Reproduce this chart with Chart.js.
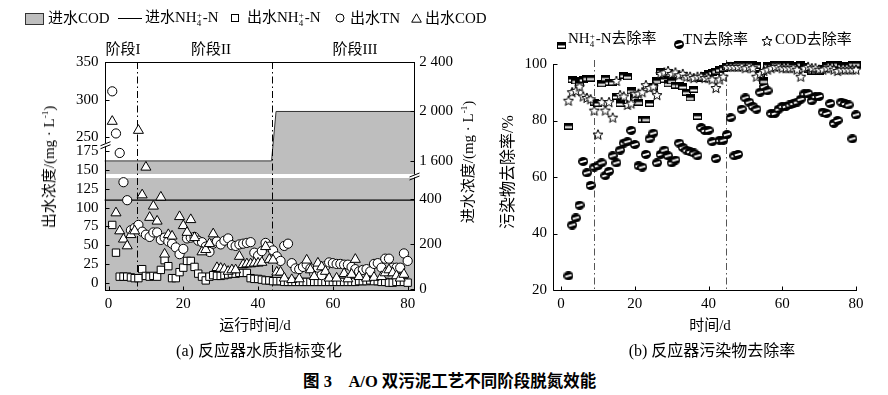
<!DOCTYPE html>
<html>
<head>
<meta charset="utf-8">
<script src="https://cdn.jsdelivr.net/npm/chart.js@4.4.1/dist/chart.umd.min.js"></script>
<style>
  body { margin: 0; width: 888px; height: 395px; background: #fff; position: relative; overflow: hidden;
         font-family: "Liberation Serif", "Noto Sans CJK SC", serif; color: #000; }
  .t { position: absolute; white-space: nowrap; font-size: 15px; line-height: 1; }
  .c { transform: translate(-50%, -50%); }
  .l { transform: translateY(-50%); }
  .r90 { transform: translate(-50%, -50%) rotate(-90deg); }
  .ss { display: inline-block; font-size: 9px; line-height: 8px; vertical-align: -4px; margin: 0 1px 0 0; }
  .sup { font-size: 9px; vertical-align: 6px; }
  .box { position: absolute; }
  #wrapA { position: absolute; left: 0; top: 0; width: 470px; height: 320px; }
  #wrapB { position: absolute; left: 470px; top: 0; width: 418px; height: 320px; }
  .cap { font-size: 16px; }
  .fig { font-size: 16.5px; font-weight: bold; }
</style>
</head>
<body>
<div id="wrapA"><canvas id="chartA"></canvas></div>
<div id="wrapB"><canvas id="chartB"></canvas></div>

<!-- legend (a) -->
<div class="box" style="left:25px;top:13px;width:17px;height:10px;background:#bebebe;border:1px solid #333;"></div>
<div class="t l" style="left:48px;top:18px;">进水COD</div>
<div class="box" style="left:118px;top:18px;width:24px;height:1px;background:#000;"></div>
<div class="t l" style="left:145px;top:18px;">进水NH<span class="ss">+<br>4</span>-N</div>
<svg class="box" style="left:231px;top:14px;" width="9" height="9"><rect x="0.5" y="0.5" width="7" height="7" fill="#fff" stroke="#000"/></svg>
<div class="t l" style="left:247px;top:18px;">出水NH<span class="ss">+<br>4</span>-N</div>
<svg class="box" style="left:335px;top:13px;" width="10" height="10"><circle cx="5" cy="5" r="4" fill="#fff" stroke="#000"/></svg>
<div class="t l" style="left:350px;top:18px;">出水TN</div>
<svg class="box" style="left:411px;top:13px;" width="11" height="10"><path d="M5.5 0.8 L10.3 9.2 L0.7 9.2 Z" fill="#fff" stroke="#000"/></svg>
<div class="t l" style="left:425px;top:18px;">出水COD</div>

<!-- stage labels (a) -->
<div class="t c" style="left:123px;top:49px;">阶段I</div>
<div class="t c" style="left:211px;top:49px;">阶段II</div>
<div class="t c" style="left:355px;top:49px;">阶段III</div>

<!-- axis titles (a) -->
<div class="t r90" style="left:49px;top:167px;">出水浓度/(mg · L<span class="sup">-1</span>)</div>
<div class="t r90" style="left:468px;top:162px;">进水浓度/(mg · L<span class="sup">-1</span>)</div>
<div class="t c" style="left:255px;top:325px;">运行时间/d</div>
<div class="t c cap" style="left:259px;top:351px;">(a) 反应器水质指标变化</div>

<!-- legend (b) -->
<span id="legB1" class="box" style="left:557px;top:35px;"></span>
<div class="t l" style="left:568px;top:39px;">NH<span class="ss">+<br>4</span>-N去除率</div>
<span id="legB2" class="box" style="left:674px;top:35px;"></span>
<div class="t l" style="left:683px;top:39px;">TN去除率</div>
<span id="legB3" class="box" style="left:761px;top:33px;"></span>
<div class="t l" style="left:775px;top:39px;">COD去除率</div>

<!-- axis titles (b) -->
<div class="t r90" style="left:508px;top:172px;font-size:16px;">污染物去除率/%</div>
<div class="t c" style="left:710px;top:325px;">时间/d</div>
<div class="t c cap" style="left:712px;top:351px;">(b) 反应器污染物去除率</div>

<div class="t l fig" style="left:303px;top:382px;">图 3&nbsp;&nbsp;&nbsp; A/O 双污泥工艺不同阶段脱氮效能</div>

<script>
// ===== (a) 反应器水质指标变化 =====
const stageSplitA = [7.6, 43.6];
const codInDays = [-1.1, 43.6, 44.8, 81.8];
const codIn = [1600, 1600, 2000, 2000];
const nh4InDays = [-1.1, 81.8];
const nh4In = [110, 110];

const outDays = [1, 2, 3, 4, 5, 6, 7, 8, 9, 10, 11, 12, 13, 14, 15, 16, 17, 18, 19, 20,
  21, 22, 23, 24, 25, 26, 27, 28, 29, 30, 31, 32, 33, 34, 35, 36, 37, 38, 39, 40,
  41, 42, 43, 44, 45, 46, 47, 48, 49, 50, 51, 52, 53, 54, 55, 56, 57, 58, 59, 60,
  61, 62, 63, 64, 65, 66, 67, 68, 69, 70, 71, 72, 73, 74, 75, 76, 77, 78, 79, 80];
const nh4Out = [77, 40, 8, 8, 8, 7, 6, 6, 18, 9, 8, 9, 8, 17, 30, 22, 6, 6, 14, 20,
  29, 29, 21, 12, 8, 3, 8, 10, 9, 9, 10, 11, 12, 12, 13, 13, 13, 6, 5, 5,
  4, 3, 3, 2, 2, 2, 1, 1, 1, 1, 1, 1, 1, 1, 1, 1, 1, 1, 1, 1,
  1, 1, 1, 1, 1, 1, 2, 2, 2, 3, 2, 2, 1, 1, 0, 0, 1, 1, 1, 0];
const tnOut = [311, 255, 173, 134, 110, 70, 73, 77, 68, 64, 61, 67, 67, 57, 60, 55, 52, 47, 38, 45,
  59, 60, 61, 56, 54, 48, 41, 52, 55, 51, 56, 59, 50, 49, 51, 52, 53, 54, 40, 36,
  42, 53, 48, 43, 35, 29, 49, 52, 26, 19, 18, 21, 24, 19, 12, 20, 10, 22, 27, 26,
  25, 25, 24, 24, 21, 18, 15, 17, 18, 15, 25, 26, 20, 32, 32, 20, 20, 20, 39, 29];
const codOutDays = [1, 2, 3, 4, 5, 6, 7, 8, 9, 10, 11, 12, 13, 14, 15, 16, 17,
  19, 20, 21, 22, 23,
  25, 26, 27, 28, 29, 30, 31, 32, 33, 34, 35, 36, 37, 38, 39, 40, 41, 42, 43, 44, 45, 46, 47,
  49, 51, 53, 54, 55, 56, 57, 58, 59, 61, 63, 64, 65, 66, 67, 69, 71,
  73, 74, 75, 76, 77, 78, 79];
const codOut = [271, 93, 69, 58, 49, 64, 69, 259, 117, 154, 87, 102, 82, 114, 38, 64, 62,
  88, 76, 67, 84, 60,
  41, 44, 52, 65, 20, 19, 18, 15, 17, 17, 35, 24, 25, 25, 26, 26, 27, 48, 31, 30, 14, 14, 6,
  4, 5, 30, 17, 8, 26, 21, 15, 6, 6, 12, 5, 11, 31, 8, 6, 7,
  8, 13, 17, 13, 9, 6, 11];
const leftTicks = [0, 25, 50, 75, 100, 125, 150, 175, 250, 300, 350];
const rightTicks = [0, 200, 400, 1600, 2000, 2400];
const xTicksA = [0, 20, 40, 60, 80];

// ===== (b) 反应器污染物去除率 =====
const stageSplitB = [9, 44.7];
const rateDays = [2, 3, 4, 5, 6, 7, 8, 9, 10, 11, 12, 13, 14, 15, 16, 17, 18, 19, 20, 21,
  22, 23, 24, 25, 26, 27, 28, 29, 30, 31, 32, 33, 34, 35, 36, 37, 38, 39, 40, 41,
  42, 43, 44, 45, 46, 47, 48, 49, 50, 51, 52, 53, 54, 55, 56, 57, 58, 59, 60, 61,
  62, 63, 64, 65, 66, 67, 68, 69, 70, 71, 72, 73, 74, 75, 76, 77, 78, 79, 80];
const nh4Rate = [78, 94.5, 94, 93, 94.5, 95, 95, 86.5, 86, 93, 95, 93.5, 93.5, 88.5, 86, 96, 95.5, 90.5, 88, 86.5,
  80.5, 80.5, 86, 92, 94, 97.5, 94.5, 93, 94, 92.5, 92.5, 92, 90, 88, 91, 81.5, 95, 96, 96.5, 97,
  97.5, 98, 98.5, 99, 99.5, 99.5, 100, 100, 100, 100, 100, 99.5, 96.5, 94, 99.5, 99.5, 100, 100, 100, 100,
  100, 99.5, 99.5, 100, 99, 98, 97.5, 97.5, 97.5, 98.5, 99.5, 100, 100, 100, 99.5, 99.5, 99.5, 100, 100];
const tnRate = [25, 43, 45.5, 50, 65.5, 61.5, 57, 63.5, 64, 65, 60.5, 62, 67.5, 65, 69.5, 72, 72.5, 76.5, 71.5, 64,
  63.5, 68, 73.5, 75.5, 65, 68, 69.5, 67.5, 65, 66, 72, 70.5, 69.5, 69, 68.5, 67.5, 77.5, 76.5, 76.5, 72.5,
  66.5, 73, 73, 75, 81, 67.5, 68, 84, 88, 86.5, 85, 84, 90, 92, 90.5, 82.5, 82.5, 84, 85, 85,
  85.5, 86, 86.5, 87.5, 89.5, 89.5, 87, 88.5, 88.5, 83, 82.5, 86, 79, 80, 86.5, 86, 85.5, 73.5, 82];
const codRate = [87, 90, 90.5, 92, 88.5, 88, 87.5, 83.5, 75, 86.5, 83.5, 86.5, 81, 94, 89, 88.5, 85.5, 86, 89.5, 89.5,
  90, 92.5, 91.5, 92, 89, 96.5, 97, 97.5, 96.5, 97, 96, 96.5, 95.5, 95.5, 95, 95.5, 95.5, 95, 95, 94.5,
  91.5, 94.5, 95.5, 99, 99, 99, 99, 99, 98.5, 99, 98.5, 95.5, 96.5, 97.5, 98, 98.5, 99, 99, 98.5, 98.5,
  98.5, 98.5, 98, 95.5, 98.5, 99, 98.5, 98.5, 98, 98, 98.5, 98.5, 98, 97.5, 98, 98, 98, 98, 98];
const xTicksB = [0, 20, 40, 60, 80];

// axis break layout (value ranges and their share of the height)
const leftPieces = [{from: -9.8, to: 184, share: 144}, {from: 240, to: 350, share: 82}];
const rightPieces = [{from: -5, to: 503, share: 113}, {from: 1478, to: 2400, share: 113}];

function pts(xs, ys) {
  return xs.map((x, i) => ({x: x, y: ys[i]}));
}

function fmtSpace(v) {
  return v >= 1000 ? String(v).replace(/\B(?=(\d{3})+$)/, ' ') : String(v);
}

// linear scale with a cut-out section
class BrokenScale extends Chart.LinearScale {
  buildTicks() {
    return this.options.tickValues.map(v => ({value: v}));
  }
  _pieces() {
    return this.options.pieces.map(p => ({from: p.from, to: p.to, share: p.share}));
  }
  _decimal(v) {
    const pieces = this._pieces();
    const total = pieces.reduce((s, p) => s + p.share, 0);
    let acc = 0;
    for (let i = 0; i < pieces.length; i++) {
      const p = pieces[i];
      if (v <= p.to || i === pieces.length - 1) {
        const vv = (i > 0 && v < p.from) ? p.from : v;
        return (acc + (vv - p.from) / (p.to - p.from) * p.share) / total;
      }
      acc += p.share;
    }
  }
  getPixelForValue(value) {
    if (value === null || value === undefined) return NaN;
    return this.getPixelForDecimal(this._decimal(value));
  }
  getValueForPixel(pixel) {
    const dec = this.getDecimalForPixel(pixel);
    const pieces = this._pieces();
    const total = pieces.reduce((s, p) => s + p.share, 0);
    let acc = 0;
    for (const p of pieces) {
      const f = p.share / total;
      if (dec <= acc + f) return p.from + (dec - acc) / f * (p.to - p.from);
      acc += f;
    }
    return this.max;
  }
  breakPixel() {
    const pieces = this._pieces();
    const total = pieces.reduce((s, p) => s + p.share, 0);
    return this.getPixelForDecimal(pieces[0].share / total);
  }
}
BrokenScale.id = 'broken';
BrokenScale.defaults = Chart.LinearScale.defaults;
Chart.register(BrokenScale);

Chart.defaults.font.family = '"Liberation Serif", "Noto Sans CJK SC", serif';
Chart.defaults.font.size = 15;
Chart.defaults.color = '#000';
Chart.defaults.animation = false;

const noGrid = {display: false, drawTicks: false};

// ---- chart (a) ----
const decorA = {
  id: 'decorA',
  afterDatasetDraw(chart, args) {
    if (args.index !== 4) return;   // right after the gray COD area
    const {ctx, chartArea: a, scales} = chart;
    ctx.save();
    const yb = scales.yR.breakPixel();
    ctx.fillStyle = '#fff';
    ctx.fillRect(a.left, yb - 2, a.right - a.left, 4);
    ctx.strokeStyle = '#000';
    ctx.lineWidth = 1;
    ctx.setLineDash([7, 3, 1.5, 3]);
    stageSplitA.forEach(d => {
      const x = Math.round(scales.x.getPixelForValue(d)) + 0.5;
      ctx.beginPath(); ctx.moveTo(x, a.top); ctx.lineTo(x, a.bottom); ctx.stroke();
    });
    ctx.restore();
  },
  afterDatasetsDraw(chart) {
    const {ctx, chartArea: a, scales} = chart;
    const L = Math.round(a.left) + 0.5, R = Math.round(a.right) + 0.5;
    const T = Math.round(a.top) + 0.5, B = Math.round(a.bottom) + 0.5;
    ctx.save();
    ctx.strokeStyle = '#000';
    ctx.lineWidth = 1;
    ctx.strokeRect(L, T, R - L, B - T);
    ctx.beginPath();
    scales.x.ticks.forEach(t => {
      const x = Math.round(scales.x.getPixelForValue(t.value)) + 0.5;
      ctx.moveTo(x, B); ctx.lineTo(x, B - 4);
    });
    scales.yL.ticks.forEach(t => {
      const y = Math.round(scales.yL.getPixelForValue(t.value)) + 0.5;
      ctx.moveTo(L, y); ctx.lineTo(L + 4, y);
    });
    scales.yR.ticks.forEach(t => {
      const y = Math.round(scales.yR.getPixelForValue(t.value)) + 0.5;
      ctx.moveTo(R, y); ctx.lineTo(R - 4, y);
    });
    ctx.stroke();
    // break marks
    const ybl = scales.yL.breakPixel(), ybr = scales.yR.breakPixel();
    ctx.fillStyle = '#fff';
    ctx.fillRect(L - 1, ybl - 1.5, 2, 3);
    ctx.fillRect(R - 1, ybr - 1.5, 2, 3);
    ctx.beginPath();
    [[L, ybl], [R, ybr]].forEach(([x, y]) => {
      ctx.moveTo(x - 5, y + 1); ctx.lineTo(x + 5, y - 3);
      ctx.moveTo(x - 5, y + 4); ctx.lineTo(x + 5, y);
    });
    ctx.stroke();
    ctx.restore();
  }
};

new Chart(document.getElementById('chartA'), {
  type: 'scatter',
  data: {
    datasets: [
      {label: '出水COD', data: pts(codOutDays, codOut), yAxisID: 'yL', pointStyle: 'triangle', pointRadius: 5.8,
       backgroundColor: '#fff', borderColor: '#000', borderWidth: 1, order: 1},
      {label: '出水TN', data: pts(outDays, tnOut), yAxisID: 'yL', pointStyle: 'circle', pointRadius: 4.6,
       backgroundColor: '#fff', borderColor: '#000', borderWidth: 1, order: 2},
      {label: '出水NH4+-N', data: pts(outDays, nh4Out), yAxisID: 'yL', pointStyle: 'rect', pointRadius: 5.2,
       backgroundColor: '#fff', borderColor: '#000', borderWidth: 1, order: 3},
      {label: '进水NH4+-N', type: 'line', data: pts(nh4InDays, nh4In), yAxisID: 'yL', borderColor: '#000',
       borderWidth: 1.3, pointRadius: 0, fill: false, order: 4},
      {label: '进水COD', type: 'line', data: pts(codInDays, codIn), yAxisID: 'yR', borderColor: '#333',
       borderWidth: 1, backgroundColor: '#bebebe', pointRadius: 0, fill: 'start', tension: 0, order: 5}
    ]
  },
  options: {
    responsive: true,
    maintainAspectRatio: false,
    layout: {padding: {left: 70, right: 12, top: 62, bottom: 2}},
    plugins: {legend: {display: false}, tooltip: {enabled: false}},
    scales: {
      x: {type: 'linear', min: -1.07, max: 81.76, grid: noGrid, border: {display: false},
          afterBuildTicks: s => { s.ticks = xTicksA.map(v => ({value: v})); },
          ticks: {padding: 5, maxRotation: 0}},
      yL: {type: 'broken', position: 'left', min: -9.8, max: 350, pieces: leftPieces, tickValues: leftTicks,
           grid: noGrid, border: {display: false}, ticks: {padding: 6}},
      yR: {type: 'broken', position: 'right', min: -5, max: 2400, pieces: rightPieces, tickValues: rightTicks,
           grid: noGrid, border: {display: false}, ticks: {padding: 5, callback: v => fmtSpace(v)}}
    }
  },
  plugins: [decorA]
});

// ---- chart (b) markers ----
function markSquare() {
  const c = document.createElement('canvas');
  c.width = 9; c.height = 7;
  const g = c.getContext('2d');
  g.fillStyle = '#000'; g.fillRect(0, 0, 9, 7);
  g.fillStyle = '#fff'; g.fillRect(1, 3.5, 7, 2);
  return c;
}
function markCircle() {
  const c = document.createElement('canvas');
  c.width = 10; c.height = 9;
  const g = c.getContext('2d');
  g.fillStyle = '#000';
  g.beginPath(); g.ellipse(5, 4.5, 5, 4.5, 0, 0, Math.PI * 2); g.fill();
  g.strokeStyle = '#fff'; g.lineWidth = 2;
  g.beginPath(); g.moveTo(1.8, 5.4); g.lineTo(8.2, 3.6); g.stroke();
  return c;
}
function markStar() {
  const c = document.createElement('canvas');
  c.width = 12; c.height = 12;
  const g = c.getContext('2d');
  g.beginPath();
  for (let i = 0; i < 10; i++) {
    const r = i % 2 === 0 ? 5.3 : 2.3;
    const a = -Math.PI / 2 + i * Math.PI / 5;
    const x = 6 + r * Math.cos(a), y = 6.3 + r * Math.sin(a);
    if (i === 0) g.moveTo(x, y); else g.lineTo(x, y);
  }
  g.closePath();
  g.fillStyle = '#fff'; g.fill();
  g.strokeStyle = '#000'; g.lineWidth = 1; g.stroke();
  return c;
}
const mSq = markSquare(), mCi = markCircle(), mSt = markStar();
document.getElementById('legB1').appendChild(markSquare());
document.getElementById('legB2').appendChild(markCircle());
document.getElementById('legB3').appendChild(markStar());

const decorB = {
  id: 'decorB',
  beforeDatasetsDraw(chart) {
    const {ctx, chartArea: a, scales} = chart;
    ctx.save();
    ctx.strokeStyle = '#555';
    ctx.lineWidth = 1;
    ctx.setLineDash([7, 3, 1.5, 3]);
    stageSplitB.forEach(d => {
      const x = Math.round(scales.x.getPixelForValue(d)) + 0.5;
      ctx.beginPath(); ctx.moveTo(x, a.top - 4); ctx.lineTo(x, a.bottom); ctx.stroke();
    });
    ctx.restore();
  },
  afterDraw(chart) {
    const {ctx, chartArea: a, scales} = chart;
    const L = Math.round(a.left) + 0.5, B = Math.round(a.bottom) + 0.5;
    ctx.save();
    ctx.strokeStyle = '#000';
    ctx.lineWidth = 1;
    ctx.beginPath();
    ctx.moveTo(L, Math.round(a.top)); ctx.lineTo(L, B); ctx.lineTo(Math.round(a.right) + 1, B);
    scales.x.ticks.forEach(t => {
      const x = Math.round(scales.x.getPixelForValue(t.value)) + 0.5;
      ctx.moveTo(x, B); ctx.lineTo(x, B - 4);
    });
    scales.y.ticks.forEach(t => {
      const y = Math.round(scales.y.getPixelForValue(t.value)) + 0.5;
      ctx.moveTo(L, y); ctx.lineTo(L + 4, y);
    });
    ctx.stroke();
    ctx.restore();
  }
};

new Chart(document.getElementById('chartB'), {
  type: 'scatter',
  data: {
    datasets: [
      {label: 'COD去除率', data: pts(rateDays, codRate), pointStyle: mSt, order: 1},
      {label: 'NH4+-N去除率', data: pts(rateDays, nh4Rate), pointStyle: mSq, order: 2},
      {label: 'TN去除率', data: pts(rateDays, tnRate), pointStyle: mCi, order: 3}
    ]
  },
  options: {
    responsive: true,
    maintainAspectRatio: false,
    clip: false,
    layout: {padding: {left: 48.5, right: 32, top: 64, bottom: 2}},
    plugins: {legend: {display: false}, tooltip: {enabled: false}},
    scales: {
      x: {type: 'linear', min: -2.2, max: 80, grid: noGrid, border: {display: false},
          afterBuildTicks: s => { s.ticks = xTicksB.map(v => ({value: v})); },
          ticks: {padding: 5, maxRotation: 0}},
      y: {type: 'linear', min: 20, max: 100, grid: noGrid, border: {display: false},
          ticks: {stepSize: 20, padding: 6}}
    }
  },
  plugins: [decorB]
});
</script>
</body>
</html>
